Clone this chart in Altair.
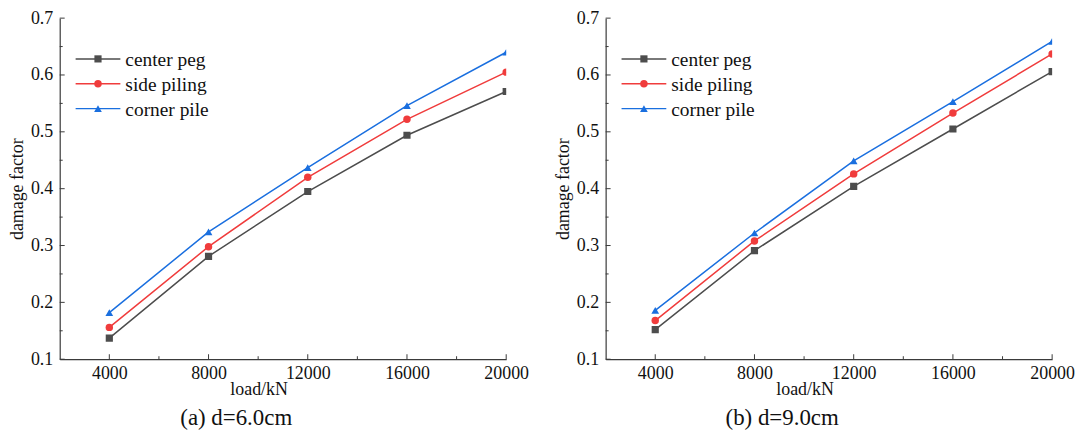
import altair as alt
import pandas as pd

FONT = "Liberation Serif"
AXIS_COLOR = "#3a3a3a"
TEXT_COLOR = "#111111"

loads = [4000, 8000, 12000, 16000, 20000]
series_names = ["center peg", "side piling", "corner pile"]
series_colors = ["#4d4d4d", "#F03C3C", "#1A6FDF"]
series_shapes = ["square", "circle", "triangle-up"]
series_sizes = [52, 60, 95]

a_center = [0.137, 0.281, 0.395, 0.494, 0.571]
a_side = [0.156, 0.298, 0.420, 0.522, 0.605]
a_corner = [0.182, 0.324, 0.437, 0.546, 0.640]

b_center = [0.152, 0.291, 0.404, 0.505, 0.606]
b_side = [0.168, 0.308, 0.426, 0.533, 0.637]
b_corner = [0.186, 0.322, 0.449, 0.553, 0.659]

y_major = [0.1, 0.2, 0.3, 0.4, 0.5, 0.6, 0.7]
y_minor = [0.15, 0.25, 0.35, 0.45, 0.55, 0.65]
x_major = [4000, 8000, 12000, 16000, 20000]
x_minor = [6000, 10000, 14000, 18000]

captions = ["(a) d=6.0cm", "(b) d=9.0cm"]

W, H = 449, 343
LEG_TOP, LEG_STEP = 41, 25


def panel(center, side, corner, caption):
    rows = []
    for name, vals in zip(series_names, [center, side, corner]):
        for ld, v in zip(loads, vals):
            rows.append({"series": name, "load": ld, "value": v})
    df = pd.DataFrame(rows)

    xs = alt.Scale(domain=[2000, 20000], nice=False, zero=False)
    ys = alt.Scale(domain=[0.1, 0.7], nice=False, zero=False)
    color = alt.Color("series:N", scale=alt.Scale(domain=series_names, range=series_colors), legend=None)
    shape = alt.Shape("series:N", scale=alt.Scale(domain=series_names, range=series_shapes), legend=None)
    size = alt.Size("series:N", scale=alt.Scale(domain=series_names, range=series_sizes), legend=None)

    x_axis = alt.Axis(values=x_major, format="d", ticks=False, grid=False,
                      domainColor=AXIS_COLOR, domainWidth=1.2,
                      labelFont=FONT, labelFontSize=18, labelColor=TEXT_COLOR,
                      labelPadding=5, labelFlush=False,
                      title="load/kN", titleFont=FONT, titleFontSize=18,
                      titleFontWeight="normal", titleColor=TEXT_COLOR,
                      titlePadding=-2, titleX=200)
    y_axis = alt.Axis(values=y_major, format=".1f", ticks=False, grid=False,
                      domainColor=AXIS_COLOR, domainWidth=1.2,
                      labelFont=FONT, labelFontSize=18, labelColor=TEXT_COLOR,
                      labelPadding=7, labelFlush=False,
                      title="damage factor", titleFont=FONT, titleFontSize=18,
                      titleFontWeight="normal", titleColor=TEXT_COLOR,
                      titlePadding=4)

    base = alt.Chart(df)
    lines = base.mark_line(strokeWidth=1.5, clip=True).encode(
        x=alt.X("load:Q", scale=xs, axis=x_axis),
        y=alt.Y("value:Q", scale=ys, axis=y_axis),
        color=color,
    )
    pts = base.mark_point(filled=True, opacity=1, clip=True).encode(
        x=alt.X("load:Q", scale=xs),
        y=alt.Y("value:Q", scale=ys),
        color=color,
        shape=shape,
        size=size,
    )

    ymaj = alt.Chart(pd.DataFrame({"v": y_major})).mark_rule(color=AXIS_COLOR, strokeWidth=1).encode(
        y=alt.Y("v:Q", scale=ys), x=alt.value(0), x2=alt.value(5))
    ymin = alt.Chart(pd.DataFrame({"v": y_minor})).mark_rule(color=AXIS_COLOR, strokeWidth=1).encode(
        y=alt.Y("v:Q", scale=ys), x=alt.value(0), x2=alt.value(3))
    xmaj = alt.Chart(pd.DataFrame({"v": x_major})).mark_rule(color=AXIS_COLOR, strokeWidth=1).encode(
        x=alt.X("v:Q", scale=xs), y=alt.value(H), y2=alt.value(H - 5))
    xmin = alt.Chart(pd.DataFrame({"v": x_minor})).mark_rule(color=AXIS_COLOR, strokeWidth=1).encode(
        x=alt.X("v:Q", scale=xs), y=alt.value(H), y2=alt.value(H - 3))

    layers = [lines, pts, ymaj, ymin, xmaj, xmin]

    # in-plot legend, one row per series
    for i, name in enumerate(series_names):
        ypos = LEG_TOP + LEG_STEP * i
        ld = alt.Chart(pd.DataFrame({"series": [name]}))
        layers.append(ld.mark_rule(strokeWidth=1.5).encode(
            y=alt.value(ypos), x=alt.value(16), x2=alt.value(61), color=color))
        layers.append(ld.mark_point(filled=True, opacity=1).encode(
            y=alt.value(ypos), x=alt.value(38.5), color=color, shape=shape, size=size))
        layers.append(ld.mark_text(align="left", baseline="middle", font=FONT, fontSize=19.5,
                                   color=TEXT_COLOR, dy=1).encode(
            y=alt.value(ypos), x=alt.value(66), text="series:N"))

    return alt.layer(*layers).properties(
        width=W, height=H,
        title=alt.TitleParams(caption, orient="bottom", anchor="middle", dx=-47,
                              font=FONT, fontSize=23, fontWeight="normal",
                              color=TEXT_COLOR, offset=9),
    )


left = panel(a_center, a_side, a_corner, captions[0])
right = panel(b_center, b_side, b_corner, captions[1])

chart = alt.hconcat(left, right, spacing=25).properties(
    padding={"left": 0, "top": 0, "right": 0, "bottom": 0}
).configure(background="white", view=alt.ViewConfig(stroke=None))

chart.save("out.html", embed_options={"renderer": "svg", "actions": False})
